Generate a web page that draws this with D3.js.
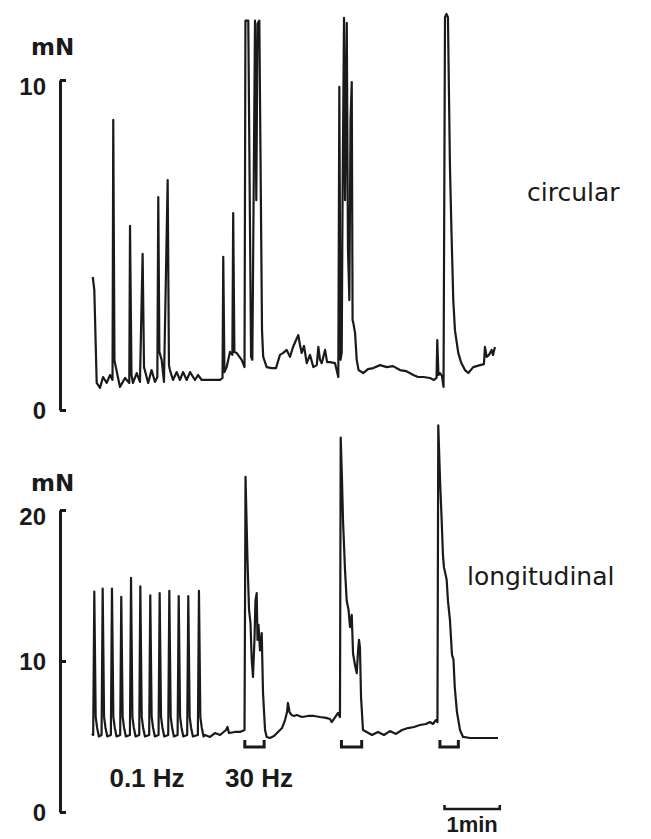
<!DOCTYPE html>
<html>
<head>
<meta charset="utf-8">
<script src="https://cdn.jsdelivr.net/npm/d3@7"></script>
<style>
body { margin: 0; background: #fff; }
text { fill: #1a1a1a; }
</style>
</head>
<body>
<script>
// circular muscle trace (time in s, force in mN)
var circTime = [0.8, 1.6, 2.5, 5.1, 8.7, 12.0, 16.0, 19.6, 22.3, 23.1, 24.4, 27.2, 30.4, 35.9, 40.5, 41.3, 42.9, 44.5, 48.6, 52.1,
    55.0, 56.5, 61.0, 64.7, 68.4, 71.0, 72.0, 73.2, 75.7, 78.2, 82.2, 83.6, 84.7, 88.0, 92.0, 95.6, 98.9, 102.9, 106.5, 111.9,
    115.2, 119.2, 139.1, 141.8, 142.6, 143.9, 146.3, 149.9, 152.5, 153.4, 154.7, 157.1, 162.6, 165.7, 166.7, 169.8, 172.8, 174.2, 177.1, 178.5,
    179.8, 181.8, 184.7, 186.0, 189.8, 195.2, 199.9, 204.2, 207.8, 211.5, 215.1, 218.4, 221.7, 224.1, 226.0, 227.8, 230.3, 233.3, 236.8, 240.5,
    244.2, 245.9, 247.7, 249.6, 253.2, 255.4, 258.6, 264.0, 267.6, 268.7, 270.0, 271.3, 272.2, 273.8, 274.9, 276.8, 278.1, 279.6, 280.9, 282.2,
    283.1, 283.9, 285.8, 287.6, 289.6, 294.7, 299.8, 305.6, 312.9, 320.2, 327.0, 334.6, 341.1, 349.1, 354.2, 359.9, 367.2, 371.5, 374.3, 375.1,
    376.4, 378.1, 380.2, 381.9, 383.5, 385.1, 386.7, 388.9, 390.5, 392.5, 394.3, 397.9, 400.9, 405.2, 408.8, 414.2, 421.5, 425.8, 426.9, 428.8,
    431.3, 434.2, 435.6, 437.8];
var circForce = [4.03, 3.85, 3.64, 0.82, 0.67, 1.0, 0.82, 1.06, 0.91, 8.79, 1.5, 1.12, 0.70, 0.97, 0.82, 5.58, 1.06, 0.82, 1.12, 0.85,
    4.73, 1.3, 0.82, 1.21, 0.85, 1.0, 6.45, 1.76, 1.52, 0.85, 6.97, 1.36, 1.21, 0.91, 1.15, 0.91, 1.15, 0.91, 1.15, 0.91,
    1.06, 0.91, 0.91, 0.97, 4.64, 1.15, 1.30, 1.76, 1.67, 5.97, 1.76, 1.73, 1.52, 1.30, 11.8, 11.8, 1.61, 1.52, 11.8, 6.36,
    11.7, 11.8, 2.42, 1.61, 1.30, 1.27, 1.27, 1.67, 1.73, 1.82, 1.61, 1.91, 2.12, 2.27, 1.97, 1.73, 1.94, 1.42, 1.67, 1.30,
    1.36, 1.91, 1.52, 1.42, 1.82, 1.45, 1.45, 1.42, 1.0, 9.79, 1.52, 1.73, 6.36, 11.88, 6.36, 11.73, 4.85, 3.33, 8.8, 9.94,
    2.73, 2.64, 2.33, 1.52, 1.21, 1.12, 1.24, 1.27, 1.36, 1.30, 1.33, 1.21, 1.18, 1.06, 1.0, 1.0, 0.97, 0.91, 0.97, 2.12,
    1.06, 1.12, 1.03, 0.70, 11.9, 12.0, 11.9, 7.36, 5.45, 3.33, 2.42, 1.73, 1.45, 1.21, 1.12, 1.30, 1.36, 1.39, 1.91, 1.61,
    1.67, 1.82, 1.67, 1.91];

// longitudinal muscle trace (time in s, force in mN)
var longTime = [0.0, 1.3, 2.5, 4.0, 5.5, 7.5, 10.4, 11.6, 13.1, 14.6, 16.6, 20.5, 21.7, 23.2, 24.7, 26.7, 30.6, 31.8, 33.3, 34.8,
    36.8, 41.2, 42.4, 43.9, 45.4, 47.4, 51.3, 52.5, 54.0, 55.5, 57.5, 62.1, 63.3, 64.8, 66.3, 68.3, 72.3, 73.5, 75.0, 76.5,
    78.5, 82.8, 84.0, 85.5, 87.0, 89.0, 93.0, 94.2, 95.7, 97.2, 99.2, 103.4, 104.6, 106.1, 107.6, 109.6, 115.0, 116.2, 117.7, 119.2,
    121.2, 122.8, 128.2, 133.6, 139.1, 145.6, 147.2, 148.8, 155.3, 160.8, 165.7, 166.8, 168.9, 170.6, 172.2, 173.5, 174.9, 176.5, 177.6, 178.9,
    179.8, 180.9, 182.5, 184.4, 185.8, 188.0, 189.8, 193.4, 197.7, 202.1, 206.4, 209.7, 211.9, 212.9, 214.6, 216.9, 219.4, 222.4, 228.1, 234.7,
    241.2, 247.7, 254.2, 258.6, 260.4, 262.9, 267.3, 269.4, 270.2, 271.6, 272.7, 274.9, 276.7, 278.7, 280.3, 282.2, 283.6, 285.8, 287.6, 289.1,
    290.1, 291.1, 292.3, 294.4, 298.4, 304.2, 310.7, 317.2, 323.7, 330.3, 336.8, 343.3, 349.8, 356.3, 362.8, 367.2, 370.4, 373.7, 375.3, 376.2,
    378.1, 379.9, 381.3, 382.4, 385.3, 386.7, 388.9, 391.1, 392.7, 394.1, 396.5, 399.8, 403.1, 410.7, 421.5, 432.4, 441.1];
var longForce = [5.2, 5.1, 14.6, 6.3, 5.6, 5.0, 5.1, 14.8, 6.3, 5.6, 5.0, 5.1, 14.8, 6.3, 5.6, 5.0, 5.1, 14.25, 6.3, 5.6,
    5.0, 5.1, 15.5, 6.3, 5.6, 5.0, 5.1, 14.95, 6.3, 5.6, 5.0, 5.1, 14.35, 6.3, 5.6, 5.0, 5.1, 14.5, 6.3, 5.6,
    5.0, 5.1, 14.65, 6.3, 5.6, 5.0, 5.1, 14.3, 6.3, 5.6, 5.0, 5.1, 14.3, 6.3, 5.6, 5.0, 5.1, 14.65, 6.3, 5.6,
    5.0, 5.1, 4.97, 5.23, 5.1, 5.43, 5.63, 5.23, 5.3, 5.3, 5.43, 22.2, 16.7, 13.4, 12.5, 10.1, 8.94, 11.4, 14.0, 14.5,
    11.4, 12.4, 10.7, 11.85, 7.88, 5.43, 4.97, 4.9, 5.03, 5.3, 5.56, 6.09, 6.62, 7.22, 6.62, 6.42, 6.36, 6.42, 6.29, 6.36,
    6.36, 6.29, 6.23, 6.16, 5.96, 6.16, 6.56, 6.29, 24.8, 22.0, 19.3, 16.0, 14.0, 13.4, 12.25, 13.05, 10.5, 9.7, 9.2, 10.7,
    11.4, 10.9, 7.6, 5.43, 5.3, 5.1, 5.3, 5.1, 5.36, 5.17, 5.43, 5.56, 5.63, 5.76, 5.83, 5.96, 5.83, 6.09, 5.96, 25.6,
    22.0, 19.3, 17.0, 16.2, 15.4, 14.0, 12.7, 10.4, 10.1, 8.28, 6.62, 5.43, 4.97, 4.9, 4.9, 4.9, 4.9];

// 30 Hz stimulation periods (s)
var stimStart = [166, 271, 378];
var stimEnd = [187, 293, 398];

var circTicks = [0, 10];
var longTicks = [0, 10, 20];

var width = 651;
var height = 839;
var ink = "#1a1a1a";

var svg = d3.select("body")
    .append("svg")
        .attr("width", width)
        .attr("height", height);

//Scales
var x = d3.scaleLinear().domain([0, 440]).range([92, 497]);
var yCirc = d3.scaleLinear().domain([0, 10]).range([410, 80]);
var yLong = d3.scaleLinear().domain([0, 20]).range([812, 510]);

//Axes
function drawAxis(y, ticks, top) {
    var g = svg.append("g")
        .attr("transform", "translate(60,0)")
        .call(d3.axisLeft(y)
            .tickValues(ticks)
            .tickSizeInner(-6)
            .tickSizeOuter(0)
            .tickPadding(14)
            .tickFormat(d3.format("d")));
    g.select(".domain").attr("stroke", ink).attr("stroke-width", 3);
    g.selectAll(".tick line").attr("stroke", ink).attr("stroke-width", 3);
    g.selectAll(".tick text")
        .attr("fill", ink)
        .style("font-family", "'Liberation Sans', Arial, sans-serif")
        .style("font-weight", "bold")
        .style("font-size", "24px")
        .attr("dy", d => d === top ? "0.62em" : "0.36em");
}
drawAxis(yCirc, circTicks, 10);
drawAxis(yLong, longTicks, 20);

//Traces
var circData = circTime.map((t, i) => [t, circForce[i]]);
var longData = longTime.map((t, i) => [t, longForce[i]]);

svg.append("path")
    .datum(circData)
    .attr("fill", "none")
    .attr("stroke", ink)
    .attr("stroke-width", 2.2)
    .attr("stroke-linejoin", "round")
    .attr("d", d3.line().x(d => x(d[0])).y(d => yCirc(d[1])));

svg.append("path")
    .datum(longData)
    .attr("fill", "none")
    .attr("stroke", ink)
    .attr("stroke-width", 2.2)
    .attr("stroke-linejoin", "round")
    .attr("d", d3.line().x(d => x(d[0])).y(d => yLong(d[1])));

//Stimulus markers
svg.selectAll(".stim")
    .data(stimStart)
    .enter()
    .append("path")
        .attr("class", "stim")
        .attr("fill", "none")
        .attr("stroke", ink)
        .attr("stroke-width", 3)
        .attr("d", (d, i) => "M" + x(d) + ",740 V747 H" + x(stimEnd[i]) + " V740");

//Labels
var bold = "'Liberation Sans', Arial, sans-serif";
function label(txt, px, py, size, weight, family, anchor) {
    svg.append("text")
        .attr("x", px)
        .attr("y", py)
        .attr("text-anchor", anchor || "start")
        .style("font-family", family)
        .style("font-weight", weight)
        .style("font-size", size + "px")
        .text(txt);
}
label("mN", 31, 55, 23, "bold", "'DejaVu Sans', sans-serif");
label("mN", 31, 491, 23, "bold", "'DejaVu Sans', sans-serif");
label("circular", 527, 201, 25, "normal", "'DejaVu Sans', sans-serif");
label("longitudinal", 467, 585, 25, "normal", "'DejaVu Sans', sans-serif");
label("0.1 Hz", 147, 787, 26, "bold", bold, "middle");
label("30 Hz", 259, 787, 26, "bold", bold, "middle");

//Scale bar
var barStart = 383;
svg.append("path")
    .attr("fill", "none")
    .attr("stroke", ink)
    .attr("stroke-width", 2.6)
    .attr("d", "M" + x(barStart) + ",805 V809 H" + x(barStart + 60) + " V805");
label("1min", x(barStart + 30), 832, 22, "bold", bold, "middle");
</script>
</body>
</html>
